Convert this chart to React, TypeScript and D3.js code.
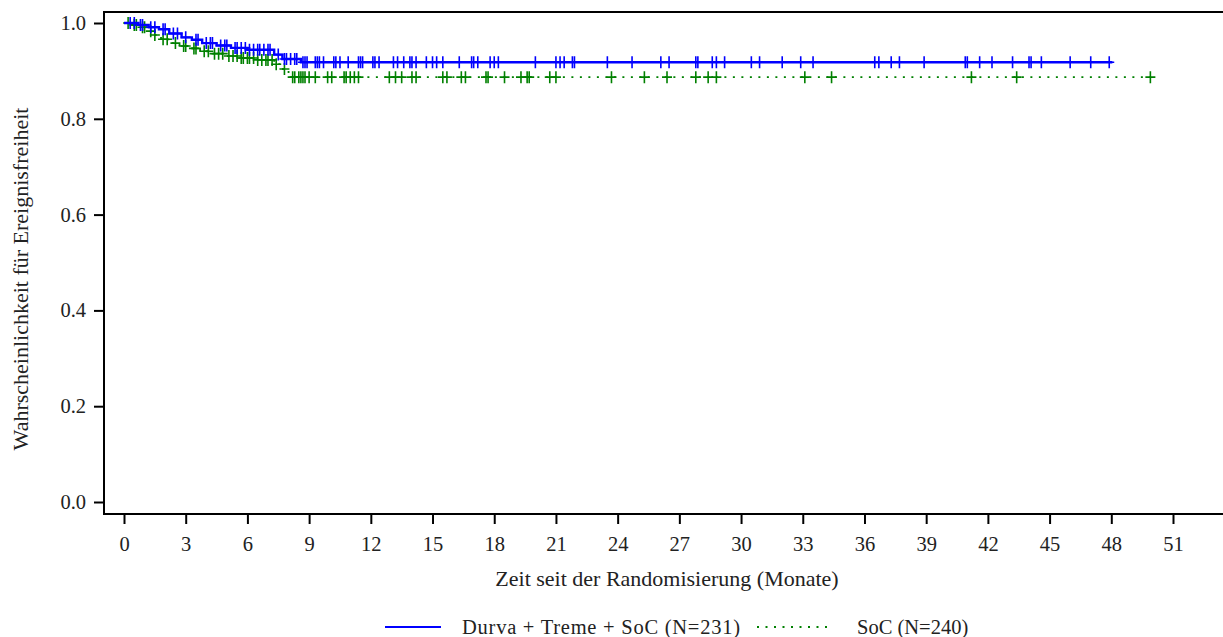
import React, { useRef, useEffect } from "react";
import * as d3 from "d3";

// Kaplan-Meier steps (months, survival)
const blueTimes = [0, 0.7, 1.2, 1.7, 2.2, 2.8, 3.3, 3.8, 4.5, 5.2, 6.0, 7.3, 7.7, 8.6];
const blueSurv = [1.0, 0.996, 0.991, 0.987, 0.978, 0.97, 0.965, 0.958, 0.953, 0.948, 0.944, 0.934, 0.925, 0.918];
const blueEnd = 48.05;
const blueCensor = [
  0.3, 0.5, 0.8, 0.9, 1.3, 1.5, 1.9, 2.0, 2.4, 2.6, 3.0, 3.5, 3.6, 4.0, 4.2, 4.3, 4.7, 4.9, 5.0, 5.4,
  5.5, 5.7, 5.9, 6.1, 6.3, 6.5, 6.6, 6.8, 7.0, 7.1, 7.5, 7.8, 7.9, 8.1, 8.3, 8.4, 8.7, 8.8, 8.9, 9.3,
  9.4, 9.5, 9.7, 10.2, 10.3, 10.5, 10.9, 11.4, 11.5, 11.6, 12.1, 12.2, 12.4, 13.1, 13.3, 13.6, 13.9,
  14.0, 14.2, 14.7, 15.0, 15.2, 15.5, 16.3, 16.9, 17.0, 17.2, 17.8, 18.0, 18.2, 20.0, 21.0, 21.2, 21.4,
  21.8, 21.9, 23.5, 24.7, 26.1, 26.5, 27.8, 27.9, 28.6, 28.8, 29.2, 30.5, 30.9, 32.0, 32.9, 33.5, 36.5,
  36.7, 37.3, 37.7, 38.9, 40.9, 41.0, 41.6, 42.2, 43.2, 44.0, 44.1, 44.6, 46.0, 47.0, 47.9,
];

const greenTimes = [0, 0.4, 0.8, 1.1, 1.4, 1.8, 2.3, 2.7, 3.2, 3.7, 4.3, 5.0, 5.6, 6.4, 7.3, 7.6, 8.0];
const greenSurv = [1.0, 0.996, 0.991, 0.983, 0.975, 0.966, 0.958, 0.952, 0.947, 0.941, 0.936, 0.931, 0.927, 0.923, 0.914, 0.904, 0.887];
const greenEnd = 49.9;
const greenCensor = [
  0.2, 0.5, 0.6, 0.9, 1.0, 1.3, 1.5, 1.9, 2.1, 2.5, 2.9, 3.0, 3.4, 3.5, 3.9, 4.1, 4.4, 4.6, 4.8, 5.1,
  5.3, 5.5, 5.7, 5.8, 6.0, 6.1, 6.3, 6.5, 6.7, 6.9, 7.0, 7.2, 7.4, 7.8, 8.2, 8.3, 8.5, 8.6, 8.7, 8.8,
  9.0, 9.3, 9.9, 10.1, 10.7, 10.8, 11.0, 11.2, 11.4, 12.9, 13.2, 13.5, 14.0, 14.2, 15.5, 15.7, 16.4,
  16.6, 17.6, 17.7, 18.5, 19.3, 19.6, 19.7, 20.7, 21.0, 23.7, 25.3, 26.4, 27.8, 28.4, 28.8, 33.1, 34.4,
  41.2, 43.4, 49.9,
];

const xTicks = d3.range(0, 52, 3);
const yTicks = [0, 0.2, 0.4, 0.6, 0.8, 1.0];

const xTitle = "Zeit seit der Randomisierung (Monate)";
const yTitle = "Wahrscheinlichkeit für Ereignisfreiheit";
const legendBlue = "Durva + Treme + SoC (N=231)";
const legendGreen = "SoC (N=240)";

const FONT = "Liberation Serif";

const App = () => {
  const ref = useRef<SVGSVGElement>(null);

  useEffect(() => {
    const width = 1223;
    const height = 637;
    const frameLeft = 104;
    const frameTop = 12;
    const frameBottom = 514;

    const x = d3.scaleLinear().domain([0, 51]).range([124, 1173]);
    const y = d3.scaleLinear().domain([0, 1]).range([502, 23]);

    const svg = d3.select(ref.current);
    svg.selectAll("*").remove();
    svg.attr("width", width).attr("height", height);

    const label = (sel, size = 20) =>
      sel.attr("font-family", FONT).attr("font-size", size).attr("fill", "#222");

    // frame (left, top, bottom)
    svg
      .append("path")
      .attr("d", `M${width + 2},${frameTop}H${frameLeft}V${frameBottom}H${width + 2}`)
      .attr("fill", "none")
      .attr("stroke", "#000")
      .attr("stroke-width", 2);

    // y axis
    const gy = svg.append("g").attr("transform", `translate(${frameLeft},0)`);
    gy.call(
      d3.axisLeft(y).tickValues(yTicks).tickSize(10).tickPadding(8).tickFormat(d3.format(".1f"))
    );
    gy.attr("font-family", FONT).attr("font-size", 20);
    gy.select(".domain").remove();
    gy.selectAll(".tick line").attr("stroke-width", 2);
    gy.selectAll(".tick text").call(label, 20.5);

    // x axis
    const gx = svg.append("g").attr("transform", `translate(0,${frameBottom})`);
    gx.call(d3.axisBottom(x).tickValues(xTicks).tickSize(10).tickPadding(12).tickFormat(d3.format("d")));
    gx.attr("font-family", FONT).attr("font-size", 20);
    gx.select(".domain").remove();
    gx.selectAll(".tick line").attr("stroke-width", 2);
    gx.selectAll(".tick text").call(label, 20.5);

    // titles
    svg
      .append("text")
      .attr("x", 667)
      .attr("y", 586)
      .attr("text-anchor", "middle")
      .call(label, 22)
      .text(xTitle);
    svg
      .append("text")
      .attr("transform", `translate(28,279) rotate(-90)`)
      .attr("text-anchor", "middle")
      .call(label, 22)
      .text(yTitle);

    const curve = (times, surv, end) => {
      const pts = times.map((t, i) => [t, surv[i]]);
      pts.push([end, surv[surv.length - 1]]);
      return pts;
    };
    const survAt = (times, surv, t) => surv[d3.bisectRight(times, t) - 1];

    const line = d3
      .line()
      .x((d) => x(d[0]))
      .y((d) => y(d[1]))
      .curve(d3.curveStepAfter);

    const series = [
      { times: greenTimes, surv: greenSurv, end: greenEnd, censor: greenCensor, color: "#008000", dash: "2,6.5", w: 1.8 },
      { times: blueTimes, surv: blueSurv, end: blueEnd, censor: blueCensor, color: "#0000ff", dash: null, w: 2.4 },
    ];

    series.forEach((s) => {
      svg
        .append("path")
        .datum(curve(s.times, s.surv, s.end))
        .attr("fill", "none")
        .attr("stroke", s.color)
        .attr("stroke-width", s.w)
        .attr("stroke-dasharray", s.dash)
        .attr("d", line);

      svg
        .append("g")
        .selectAll("path")
        .data(s.censor)
        .join("path")
        .attr("d", (t) => {
          const cx = x(t);
          const cy = y(survAt(s.times, s.surv, t));
          return `M${cx - 5},${cy}H${cx + 5}M${cx},${cy - 6}V${cy + 6}`;
        })
        .attr("stroke", s.color)
        .attr("stroke-width", 1.6)
        .attr("fill", "none");
    });

    // legend
    const legendY = 627;
    svg
      .append("line")
      .attr("x1", 385)
      .attr("x2", 441)
      .attr("y1", legendY)
      .attr("y2", legendY)
      .attr("stroke", "#0000ff")
      .attr("stroke-width", 2);
    svg
      .append("text")
      .attr("x", 462)
      .attr("y", legendY + 7)
      .call(label, 20.5)
      .attr("textLength", 278)
      .attr("lengthAdjust", "spacing")
      .text(legendBlue);
    svg
      .append("line")
      .attr("x1", 757)
      .attr("x2", 833)
      .attr("y1", legendY)
      .attr("y2", legendY)
      .attr("stroke", "#008000")
      .attr("stroke-width", 1.8)
      .attr("stroke-dasharray", "2,6.5");
    svg
      .append("text")
      .attr("x", 857)
      .attr("y", legendY + 7)
      .call(label, 20.5)
      .text(legendGreen);
  }, []);

  return <svg ref={ref} style={{ position: "absolute", left: 0, top: 0, background: "#fff" }} />;
};

export default App;
